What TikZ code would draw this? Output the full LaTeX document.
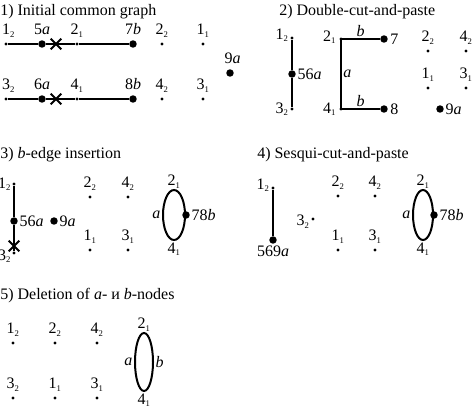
\documentclass[tikz,border=0pt]{standalone}
\usepackage{fontspec}
\setmainfont{Liberation Serif}
\usetikzlibrary{positioning,shapes.geometric,shapes.misc}
\newcommand{\vx}[2]{#1\textsubscript{\fontsize{6.5}{7}\selectfont #2}}

\begin{document}
\begin{tikzpicture}[
  x=0.75pt, y=-0.75pt,
  font=\fontsize{12}{14}\selectfont,
  node distance=2.5pt,
  dot/.style={circle, fill, inner sep=0pt, minimum size=2.4pt},
  bigdot/.style={circle, fill, inner sep=0pt, minimum size=5.6pt},
  edge/.style={line width=1.5pt},
  cut/.style={cross out, draw, line width=1.5pt, inner sep=0pt, minimum size=6.5pt},
  loopy/.style={ellipse, draw, line width=1.5pt, inner sep=0pt},
  tag/.style={inner sep=1pt},
  title/.style={anchor=base west, inner sep=0pt}
]
\useasboundingbox (0,0) rectangle (473,411);

% 1) initial common graph
\node[title] (t1) at (0,15) {1) Initial common graph};
\node[dot] (a12) at (6,44) {};
\node[bigdot] (a5a) at (42,44) {};
\node[cut] (ax) at (56,44) {};
\node[dot] (a21) at (77,44) {};
\node[bigdot] (a7b) at (133,44) {};
\node[dot] (a22) at (162,44) {};
\node[dot] (a11) at (203,44) {};
\node[dot] (a32) at (6,99) {};
\node[bigdot] (a6a) at (42,99) {};
\node[cut] (ay) at (56,99) {};
\node[dot] (a41) at (77,99) {};
\node[bigdot] (a8b) at (133,99) {};
\node[dot] (a42) at (162,99) {};
\node[dot] (a31) at (203,99) {};
\node[bigdot] (a9a) at (230,73) {};
\draw[edge] (a12) -- (a5a) -- (a21) -- (a7b);
\draw[edge] (a32) -- (a6a) -- (a41) -- (a8b);
\node[tag, above=of a12, xshift=2pt] (la12) {\vx12};
\node[tag, above=of a5a] (la5a) {5\textit{a}};
\node[tag, above=of a21] (la21) {\vx21};
\node[tag, above=of a7b] (la7b) {7\textit{b}};
\node[tag, above=of a22] (la22) {\vx22};
\node[tag, above=of a11] (la11) {\vx11};
\node[tag, above=of a32, xshift=2pt] (la32) {\vx32};
\node[tag, above=of a6a] (la6a) {6\textit{a}};
\node[tag, above=of a41] (la41) {\vx41};
\node[tag, above=of a8b] (la8b) {8\textit{b}};
\node[tag, above=of a42] (la42) {\vx42};
\node[tag, above=of a31] (la31) {\vx31};
\node[tag, above=of a9a, xshift=2pt] (la9a) {9\textit{a}};

% 2) double-cut-and-paste
\node[title] (t2) at (279,15) {2) Double-cut-and-paste};
\node[dot] (b12) at (292,38) {};
\node[bigdot] (b56a) at (292,74) {};
\node[dot] (b32) at (292,109) {};
\draw[edge] (b12) -- (b56a) -- (b32);
\node[tag, left=0pt of b12, yshift=2pt] (lb12) {\vx12};
\node[tag, left=0pt of b32] (lb32) {\vx32};
\node[tag, right=0pt of b56a] (lb56a) {56\textit{a}};
\node[dot] (b21) at (341,39) {};
\node[bigdot] (b7) at (384,39) {};
\node[dot] (b41) at (341,109) {};
\node[bigdot] (b8) at (384,109) {};
\draw[edge] (b7) -- node[tag, above] (lbb1) {\textit{b}} (b21.center)
  -- node[tag, right] (lba) {\textit{a}} (b41.center)
  -- node[tag, above] (lbb2) {\textit{b}} (b8);
\node[tag, left=1pt of b21, yshift=1.5pt] (lb21) {\vx21};
\node[tag, left=1pt of b41] (lb41) {\vx41};
\node[tag, right=0.5pt of b7] (lb7) {7};
\node[tag, right=0.5pt of b8] (lb8) {8};
\node[dot] (b22) at (428,51) {};
\node[dot] (b42) at (466,51) {};
\node[dot] (b11) at (428,88) {};
\node[dot] (b31) at (466,88) {};
\node[bigdot] (b9a) at (440,109) {};
\node[tag, above=of b22] (lb22) {\vx22};
\node[tag, above=of b42] (lb42) {\vx42};
\node[tag, above=of b11] (lb11) {\vx11};
\node[tag, above=of b31] (lb31) {\vx31};
\node[tag, right=0pt of b9a] (lb9a) {9\textit{a}};

% 3) b-edge insertion
\node[title] (t3) at (0,158) {3) \textit{b}-edge insertion};
\node[dot] (c12) at (14,184) {};
\node[bigdot] (c56a) at (14,221) {};
\node[cut] (cx) at (14,246) {};
\node[dot] (c32) at (14,253) {};
\draw[edge] (c12) -- (c56a) -- (c32);
\node[tag, inner sep=0pt, left=0.5pt of c12] (lc12) {\vx12};
\node[tag, inner sep=0pt, left=0.5pt of c32, yshift=-2.5pt] (lc32) {\vx32};
\node[tag, right=0pt of c56a] (lc56a) {56\textit{a}};
\node[bigdot] (c9a) at (54,221) {};
\node[tag, right=0pt of c9a] (lc9a) {9\textit{a}};
\node[dot] (c22) at (90,197) {};
\node[dot] (c42) at (128,197) {};
\node[dot] (c11) at (90,250) {};
\node[dot] (c31) at (128,250) {};
\node[tag, above=of c22] (lc22) {\vx22};
\node[tag, above=of c42] (lc42) {\vx42};
\node[tag, above=of c11] (lc11) {\vx11};
\node[tag, above=of c31] (lc31) {\vx31};
\node[loopy, minimum width=16.5pt, minimum height=37.5pt] (c0) at (174,215) {};
\node[bigdot] (c78b) at (c0.east) {};
\node[tag, right=0pt of c78b] (lc78b) {78\textit{b}};
\node[tag, left=0pt of c0.west] (lca) {\textit{a}};
\node[tag, above=-0.5pt of c0.north] (lc21) {\vx21};
\node[tag, below=0pt of c0.south] (lc41) {\vx41};

% 4) sesqui-cut-and-paste
\node[title] (t4) at (257,158) {4) Sesqui-cut-and-paste};
\node[dot] (d12) at (273,188) {};
\node[bigdot] (d569a) at (273,240) {};
\draw[edge] (d12) -- (d569a);
\node[tag, left=0pt of d12, yshift=2pt] (ld12) {\vx12};
\node[tag, below=0pt of d569a] (ld569a) {569\textit{a}};
\node[dot] (d32) at (313,219) {};
\node[tag, left=0pt of d32, yshift=-2pt] (ld32) {\vx32};
\node[dot] (d22) at (338,196) {};
\node[dot] (d42) at (375,196) {};
\node[dot] (d11) at (338,250) {};
\node[dot] (d31) at (375,250) {};
\node[tag, above=of d22] (ld22) {\vx22};
\node[tag, above=of d42] (ld42) {\vx42};
\node[tag, above=of d11] (ld11) {\vx11};
\node[tag, above=of d31] (ld31) {\vx31};
\node[loopy, minimum width=15pt, minimum height=37.5pt] (d0) at (423,215) {};
\node[bigdot] (d78b) at (d0.east) {};
\node[tag, right=0pt of d78b] (ld78b) {78\textit{b}};
\node[tag, left=0pt of d0.west] (lda) {\textit{a}};
\node[tag, above=-0.5pt of d0.north] (ld21) {\vx21};
\node[tag, below=0pt of d0.south] (ld41) {\vx41};

% 5) deletion of a- and b-nodes
\node[title] (t5) at (0,299) {5) Deletion of \textit{a}- и \textit{b}-nodes};
\node[dot] (e12) at (13,343) {};
\node[dot] (e22) at (55,343) {};
\node[dot] (e42) at (97,343) {};
\node[dot] (e32) at (13,398) {};
\node[dot] (e11) at (55,398) {};
\node[dot] (e31) at (97,398) {};
\node[tag, above=of e12] (le12) {\vx12};
\node[tag, above=of e22] (le22) {\vx22};
\node[tag, above=of e42] (le42) {\vx42};
\node[tag, above=of e32] (le32) {\vx32};
\node[tag, above=of e11] (le11) {\vx11};
\node[tag, above=of e31] (le31) {\vx31};
\node[loopy, minimum width=13.5pt, minimum height=43.5pt] (e0) at (144,362) {};
\node[tag, left=0pt of e0.west] (lea) {\textit{a}};
\node[tag, right=0pt of e0.east] (leb) {\textit{b}};
\node[tag, above=-0.5pt of e0.north] (le21) {\vx21};
\node[tag, below=0pt of e0.south] (le41) {\vx41};
\end{tikzpicture}
\end{document}
